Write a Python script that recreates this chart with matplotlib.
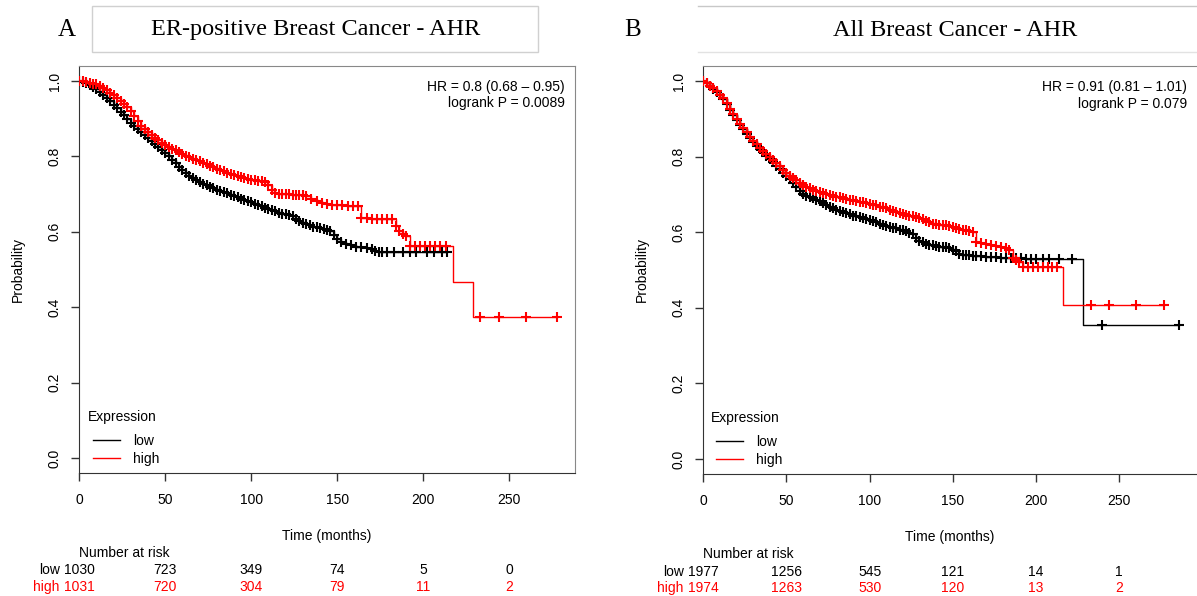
import numpy as np
import matplotlib.pyplot as plt
from matplotlib.patches import Rectangle
from matplotlib.lines import Line2D

plt.rcParams['font.family'] = ['Liberation Sans', 'DejaVu Sans']
plt.rcParams['font.size'] = 10

LOW_COLOR = '#000000'
HIGH_COLOR = '#FF0000'

# ---------------- Panel A: ER-positive breast cancer ----------------
# censored-step points (time in months, survival probability)
a_low_t = [0, 2, 4, 6, 8, 10, 12, 14, 16, 18, 20, 22, 24, 26, 28, 30, 32, 34, 36, 38,
           40, 42, 44, 46, 48, 50, 52, 54, 56, 58, 60, 62, 64, 66, 68, 70, 72, 74, 76, 78,
           80, 82, 84, 86, 88, 90, 92, 94, 96, 98, 100, 102, 104, 106, 108, 110, 112, 114,
           116, 118, 120, 122, 124, 126, 128, 130, 132, 134, 136, 138, 140, 142, 144, 146,
           148, 150, 152, 155, 158, 161, 164, 167, 170, 172, 174, 176, 179, 183, 188, 192,
           196, 202, 206, 211, 214]
a_low_s = [1.0, 0.998, 0.995, 0.99, 0.985, 0.979, 0.972, 0.964, 0.956, 0.947, 0.937, 0.928,
           0.918, 0.909, 0.899, 0.89, 0.881, 0.872, 0.864, 0.856, 0.848, 0.84, 0.832, 0.824,
           0.816, 0.808, 0.8, 0.791, 0.782, 0.773, 0.765, 0.757, 0.749, 0.742, 0.737, 0.732,
           0.728, 0.724, 0.72, 0.716, 0.712, 0.709, 0.705, 0.702, 0.698, 0.695, 0.692, 0.688,
           0.685, 0.682, 0.678, 0.675, 0.671, 0.668, 0.664, 0.66, 0.657, 0.654, 0.651, 0.648,
           0.646, 0.644, 0.642, 0.635, 0.628, 0.624, 0.62, 0.617, 0.614, 0.612, 0.61, 0.608,
           0.606, 0.603, 0.592, 0.582, 0.574, 0.568, 0.564, 0.561, 0.56, 0.558, 0.555, 0.55,
           0.547, 0.546, 0.546, 0.546, 0.546, 0.546, 0.546, 0.546, 0.546, 0.546, 0.546]
a_low_drop_t = []
a_low_drop_s = []
a_low_cens_t = []
a_low_cens_s = []

a_high_t = [0, 2, 4, 6, 8, 10, 12, 14, 16, 18, 20, 22, 24, 26, 28, 30, 32, 34, 36, 38,
            40, 42, 44, 46, 48, 50, 52, 54, 56, 58, 60, 62, 64, 66, 68, 70, 72, 74, 76, 78,
            80, 82, 84, 86, 88, 90, 92, 94, 96, 98, 100, 102, 104, 106, 108, 110, 112, 114,
            116, 118, 120, 122, 124, 126, 128, 130, 132, 135, 138, 141, 144, 147, 150, 153,
            156, 159, 162, 164, 167, 170, 173, 176, 179, 182, 184, 186, 188, 190, 192]
a_high_s = [1.0, 0.999, 0.997, 0.995, 0.993, 0.991, 0.986, 0.981, 0.975, 0.969, 0.962, 0.955,
            0.947, 0.94, 0.932, 0.92, 0.908, 0.895, 0.882, 0.874, 0.866, 0.858, 0.85, 0.843,
            0.837, 0.831, 0.826, 0.821, 0.816, 0.811, 0.807, 0.802, 0.798, 0.794, 0.79, 0.787,
            0.783, 0.779, 0.775, 0.772, 0.768, 0.764, 0.761, 0.757, 0.754, 0.751, 0.748, 0.745,
            0.742, 0.74, 0.738, 0.737, 0.736, 0.735, 0.733, 0.724, 0.712, 0.703, 0.7, 0.7,
            0.7, 0.7, 0.699, 0.699, 0.698, 0.697, 0.695, 0.688, 0.682, 0.677, 0.673, 0.672,
            0.671, 0.67, 0.669, 0.668, 0.668, 0.637, 0.636, 0.635, 0.634, 0.633, 0.633, 0.633,
            0.615, 0.602, 0.595, 0.589, 0.562]
a_high_drop_t = [217, 229]
a_high_drop_s = [0.466, 0.374]
a_high_cens_t = [195, 198, 201, 204, 207, 210, 213, 233, 244, 260, 277.5]
a_high_cens_s = [0.562, 0.562, 0.562, 0.562, 0.562, 0.562, 0.562, 0.374, 0.374, 0.374, 0.374]

a_risk_times = [0, 50, 100, 150, 200, 250]
a_risk_low = [1030, 723, 349, 74, 5, 0]
a_risk_high = [1031, 720, 304, 79, 11, 2]
a_hr_text = 'HR = 0.8 (0.68 \u2013 0.95)'
a_p_text = 'logrank P = 0.0089'

# ---------------- Panel B: all breast cancer ----------------
b_low_t = [0, 2, 4, 6, 8, 10, 12, 14, 16, 18, 20, 22, 24, 26, 28, 30, 32, 34, 36, 38,
           40, 42, 44, 46, 48, 50, 52, 54, 56, 58, 60, 62, 64, 66, 68, 70, 72, 74, 76, 78,
           80, 82, 84, 86, 88, 90, 92, 94, 96, 98, 100, 102, 104, 106, 108, 110, 112, 114,
           116, 118, 120, 122, 124, 126, 128, 130, 132, 134, 136, 138, 140, 142, 144, 146,
           148, 150, 152, 154, 156, 158, 160, 162, 164, 167, 170, 173, 176, 179, 182, 185,
           188, 191, 194, 197, 200, 204, 208]
b_low_s = [1.0, 0.995, 0.988, 0.98, 0.972, 0.963, 0.953, 0.939, 0.924, 0.909, 0.896, 0.884,
           0.873, 0.861, 0.849, 0.838, 0.829, 0.82, 0.812, 0.803, 0.794, 0.785, 0.776, 0.767,
           0.758, 0.75, 0.741, 0.731, 0.72, 0.71, 0.702, 0.697, 0.694, 0.69, 0.686, 0.683,
           0.678, 0.673, 0.668, 0.664, 0.66, 0.657, 0.653, 0.65, 0.647, 0.644, 0.642, 0.639,
           0.637, 0.634, 0.632, 0.629, 0.626, 0.623, 0.62, 0.617, 0.615, 0.612, 0.61, 0.607,
           0.605, 0.602, 0.598, 0.594, 0.585, 0.577, 0.573, 0.57, 0.567, 0.565, 0.563, 0.562,
           0.561, 0.56, 0.557, 0.554, 0.551, 0.543, 0.541, 0.54, 0.539, 0.538, 0.537, 0.536,
           0.535, 0.535, 0.534, 0.533, 0.533, 0.532, 0.531, 0.531, 0.53, 0.53, 0.53, 0.529,
           0.529]
b_low_drop_t = [228.5]
b_low_drop_s = [0.354]
b_low_cens_t = [214, 222, 240, 286]
b_low_cens_s = [0.529, 0.529, 0.354, 0.354]

b_high_t = [0, 2, 4, 6, 8, 10, 12, 14, 16, 18, 20, 22, 24, 26, 28, 30, 32, 34, 36, 38,
            40, 42, 44, 46, 48, 50, 52, 54, 56, 58, 60, 62, 64, 66, 68, 70, 72, 74, 76, 78,
            80, 82, 84, 86, 88, 90, 92, 94, 96, 98, 100, 102, 104, 106, 108, 110, 112, 114,
            116, 118, 120, 122, 124, 126, 128, 130, 132, 134, 136, 138, 140, 142, 144, 146,
            148, 150, 152, 154, 156, 158, 160, 162, 164, 167, 170, 173, 176, 179, 182, 184,
            186, 188, 190, 192]
b_high_s = [1.0, 0.994, 0.988, 0.981, 0.973, 0.964, 0.954, 0.941, 0.927, 0.912, 0.899, 0.887,
            0.876, 0.864, 0.853, 0.842, 0.833, 0.824, 0.816, 0.808, 0.8, 0.792, 0.784, 0.776,
            0.765, 0.756, 0.75, 0.744, 0.737, 0.731, 0.726, 0.72, 0.716, 0.712, 0.709, 0.706,
            0.703, 0.7, 0.698, 0.696, 0.694, 0.692, 0.69, 0.688, 0.686, 0.684, 0.683, 0.681,
            0.679, 0.677, 0.675, 0.673, 0.671, 0.668, 0.666, 0.663, 0.66, 0.657, 0.654, 0.651,
            0.648, 0.646, 0.644, 0.642, 0.64, 0.638, 0.634, 0.63, 0.626, 0.623, 0.621, 0.62,
            0.619, 0.618, 0.617, 0.615, 0.612, 0.609, 0.607, 0.605, 0.604, 0.6, 0.574, 0.571,
            0.568, 0.566, 0.564, 0.562, 0.559, 0.553, 0.532, 0.526, 0.52, 0.508]
b_high_drop_t = [216.5]
b_high_drop_s = [0.407]
b_high_cens_t = [195, 198, 201, 204, 207, 210, 213, 233, 244, 260, 277]
b_high_cens_s = [0.508, 0.508, 0.508, 0.508, 0.508, 0.508, 0.508, 0.407, 0.407, 0.407, 0.407]

b_risk_times = [0, 50, 100, 150, 200, 250]
b_risk_low = [1977, 1256, 545, 121, 14, 1]
b_risk_high = [1974, 1263, 530, 120, 13, 2]
b_hr_text = 'HR = 0.91 (0.81 \u2013 1.01)'
b_p_text = 'logrank P = 0.079'


def draw_km(ax, t, s, drop_t, drop_s, cens_t, cens_s, color):
    """Step curve plus '+' censoring marks"""
    tt = np.array(list(t) + list(drop_t) + list(cens_t), dtype=float)
    ss = np.array(list(s) + list(drop_s) + list(cens_s), dtype=float)
    order = np.argsort(tt, kind='stable')
    ax.step(tt[order], ss[order], where='post', color=color, lw=1.0, zorder=2)
    ax.plot(list(t) + list(cens_t), list(s) + list(cens_s), ls='none', marker='+',
            ms=7, mew=1.5, color=color, zorder=3)


def style_axes(ax, xmax, hide_right=False):
    ax.set_xlim(0, xmax)
    ax.set_ylim(-0.04, 1.04)
    ax.set_xticks([0, 50, 100, 150, 200, 250])
    ax.set_yticks([0.0, 0.2, 0.4, 0.6, 0.8, 1.0])
    ax.set_yticklabels(['0.0', '0.2', '0.4', '0.6', '0.8', '1.0'])
    ax.tick_params(axis='both', direction='out', length=5.5, width=1.0,
                   color='#333333', labelsize=10)
    ax.tick_params(axis='x', pad=9)
    ax.tick_params(axis='y', labelrotation=90, pad=7)
    for lbl in ax.get_yticklabels():
        lbl.set_va('center')
    ax.spines['left'].set_color('#333333')
    ax.spines['bottom'].set_color('#333333')
    ax.spines['top'].set_color('#888888')
    ax.spines['right'].set_color('#888888')
    if hide_right:
        ax.spines['right'].set_visible(False)
    ax.text(-0.124, 0.5, 'Probability', rotation=90, ha='center', va='center',
            transform=ax.transAxes, fontsize=10)
    ax.text(0.5, -0.154, 'Time (months)', ha='center', va='center',
            transform=ax.transAxes, fontsize=10)


def add_legend(ax, x0):
    ax.text(x0, 0.138, 'Expression', transform=ax.transAxes, ha='left', va='center',
            fontsize=10)
    handles = [Line2D([], [], color=LOW_COLOR, lw=1.0),
               Line2D([], [], color=HIGH_COLOR, lw=1.0)]
    ax.legend(handles, ['low', 'high'], loc='lower left', bbox_to_anchor=(x0 + 0.01, 0.018),
              frameon=False, fontsize=10, handlelength=1.95, handletextpad=0.95,
              labelspacing=0.25, borderpad=0, borderaxespad=0)


def add_risk_table(ax, times, low, high):
    tr = ax.get_xaxis_transform()
    ax.text(0, -0.196, 'Number at risk', transform=tr, ha='left', va='center', fontsize=10)
    for tm, n_low, n_high in zip(times, low, high):
        ax.text(tm, -0.239, str(n_low), transform=tr, ha='center', va='center',
                fontsize=10, color=LOW_COLOR)
        ax.text(tm, -0.279, str(n_high), transform=tr, ha='center', va='center',
                fontsize=10, color=HIGH_COLOR)
    ax.annotate('low', xy=(0, -0.239), xycoords=tr, xytext=(-14, 0),
                textcoords='offset points', ha='right', va='center', fontsize=10,
                color=LOW_COLOR)
    ax.annotate('high', xy=(0, -0.279), xycoords=tr, xytext=(-14, 0),
                textcoords='offset points', ha='right', va='center', fontsize=10,
                color=HIGH_COLOR)


def add_stats(ax, hr_text, p_text):
    ax.text(0.98, 0.949, hr_text, transform=ax.transAxes, ha='right', va='center', fontsize=10)
    ax.text(0.98, 0.908, p_text, transform=ax.transAxes, ha='right', va='center', fontsize=10)


W, H = 1197, 596
fig = plt.figure(figsize=(W / 100, H / 100), dpi=100)

ax_a = fig.add_axes([79.3 / W, 1 - 473 / H, (575 - 79.3) / W, (473 - 66) / H])
ax_b = fig.add_axes([703.3 / W, 1 - 474 / H, (W - 703.3) / W, (474 - 66) / H])

# Panel A
draw_km(ax_a, a_low_t, a_low_s, a_low_drop_t, a_low_drop_s, a_low_cens_t, a_low_cens_s, LOW_COLOR)
draw_km(ax_a, a_high_t, a_high_s, a_high_drop_t, a_high_drop_s, a_high_cens_t, a_high_cens_s, HIGH_COLOR)
style_axes(ax_a, 288.2)
add_legend(ax_a, 0.017)
add_risk_table(ax_a, a_risk_times, a_risk_low, a_risk_high)
add_stats(ax_a, a_hr_text, a_p_text)

# Panel B
draw_km(ax_b, b_low_t, b_low_s, b_low_drop_t, b_low_drop_s, b_low_cens_t, b_low_cens_s, LOW_COLOR)
draw_km(ax_b, b_high_t, b_high_s, b_high_drop_t, b_high_drop_s, b_high_cens_t, b_high_cens_s, HIGH_COLOR)
style_axes(ax_b, 296.9, hide_right=True)
add_legend(ax_b, 0.016)
add_risk_table(ax_b, b_risk_times, b_risk_low, b_risk_high)
add_stats(ax_b, b_hr_text, b_p_text)

# Title boxes
serif = ['Liberation Serif', 'DejaVu Serif']
fig.add_artist(Rectangle((92 / W, 1 - 52 / H), (538 - 92) / W, 46 / H, transform=fig.transFigure,
                         fill=False, ec='#d0d0d0', lw=1.0))
fig.add_artist(Line2D([698 / W, 1], [1 - 6 / H, 1 - 6 / H], transform=fig.transFigure,
                      color='#c8c8c8', lw=1.0))
fig.add_artist(Line2D([698 / W, 1], [1 - 52 / H, 1 - 52 / H], transform=fig.transFigure,
                      color='#e2e2e2', lw=1.0))
fig.text(67 / W, 1 - 30 / H, 'A', family=serif, fontsize=18, ha='center', va='center')
fig.text(316 / W, 1 - 30 / H, 'ER-positive Breast Cancer - AHR', family=serif, fontsize=17.5,
         ha='center', va='center')
fig.text(633 / W, 1 - 30 / H, 'B', family=serif, fontsize=18, ha='center', va='center')
fig.text(955 / W, 1 - 30 / H, 'All Breast Cancer - AHR', family=serif, fontsize=17.5,
         ha='center', va='center')

fig.savefig('out.png', dpi=100, facecolor='white')
